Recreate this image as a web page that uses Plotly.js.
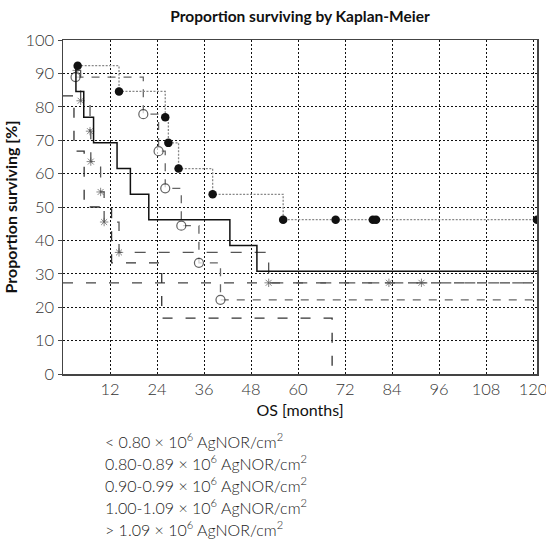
<!DOCTYPE html>
<html>
<head>
<meta charset="utf-8">
<script src="https://cdn.plot.ly/plotly-3.0.1.min.js"></script>
<style>html,body{margin:0;padding:0;background:#fff;}#chart{width:546px;height:559px;}</style>
</head>
<body>
<div id="chart"></div>
<script>
// Group labels (legend text)
const groupLabels = [
  "< 0.80 × 10<sup>6</sup> AgNOR/cm<sup>2</sup>",
  "0.80-0.89 × 10<sup>6</sup> AgNOR/cm<sup>2</sup>",
  "0.90-0.99 × 10<sup>6</sup> AgNOR/cm<sup>2</sup>",
  "1.00-1.09 × 10<sup>6</sup> AgNOR/cm<sup>2</sup>",
  "> 1.09 × 10<sup>6</sup> AgNOR/cm<sup>2</sup>"
];

// Filled-circle curve (dotted)
const aMonths = [3.75, 14.3, 26.1, 26.9, 29.5, 38.2, 56.2, 69.6, 79.1, 79.9, 121];
const aSurv   = [92.3, 84.6, 76.9, 69.2, 61.5, 53.8, 46.2, 46.2, 46.2, 46.2, 46.2];

// Open-circle curve (dashed)
const bMonths = [3.2, 20.5, 24.4, 26.1, 30.2, 34.7, 40.2, 120];
const bSurv   = [88.9, 77.8, 66.7, 55.6, 44.4, 33.3, 22.2, 22.2];

// Solid curve
const cMonths = [3.3, 3.3, 5.3, 7.8, 13.8, 17.2, 21.9, 42.6, 49.5, 121];
const cSurv   = [92.3, 84.6, 76.9, 69.2, 61.5, 53.8, 46.2, 38.5, 30.8, 30.8];

// Asterisk curve (long dash)
const dMonths = [3.5, 4.5, 6.9, 7.1, 9.6, 10.5, 14.3, 52.5, 83.2, 91.5, 120];
const dSurv   = [90.9, 81.8, 72.7, 63.6, 54.5, 45.5, 36.4, 27.3, 27.3, 27.3, 27.3];

// Long-dash curve without markers
const eMonths = [0, 2.8, 5.4, 12.4, 25.2, 68.7];
const eSurv   = [83.3, 66.7, 50.0, 33.3, 16.7, 0];

// Flat long-dash line
const fMonths = [0, 120];
const fSurv   = [27.3, 27.3];

const xTicks = [12, 24, 36, 48, 60, 72, 84, 96, 108, 120];
const yTicks = [0, 10, 20, 30, 40, 50, 60, 70, 80, 90, 100];

const FONT = "Lato, Open Sans, sans-serif";

function sizes(n, s) { const a = []; for (let i = 0; i < n; i++) a.push(i === n - 1 ? 0 : s); return a; }

const traces = [
  { x: fMonths, y: fSurv, mode: "lines", line: { shape: "hv", color: "#444", width: 1.3, dash: "10px,13px" }, name: "f", hoverinfo: "skip" },
  { x: eMonths, y: eSurv, mode: "lines", line: { shape: "hv", color: "#333", width: 1.3, dash: "10px,13px" }, name: groupLabels[4] },
  { x: dMonths, y: dSurv, mode: "lines+markers", line: { shape: "hv", color: "#555", width: 1.3, dash: "11px,13px" },
    marker: { symbol: "asterisk-open", size: sizes(dMonths.length, 7), line: { color: "#444", width: 1 } }, name: groupLabels[3] },
  { x: bMonths, y: bSurv, mode: "lines+markers", line: { shape: "hv", color: "#666", width: 1.3, dash: "8px,8px" },
    marker: { symbol: "circle", size: sizes(bMonths.length, 9), color: "#fff", line: { color: "#222", width: 1.2 } }, name: groupLabels[1] },
  { x: cMonths, y: cSurv, mode: "lines", line: { shape: "hv", color: "#111", width: 1.5 }, name: groupLabels[2] },
  { x: aMonths, y: aSurv, mode: "lines+markers", line: { shape: "hv", color: "#888", width: 1.3, dash: "2px,1.5px" },
    marker: { symbol: "circle", size: 8.5, color: "#111" }, name: groupLabels[0] }
];

const annotations = groupLabels.map((t, i) => ({
  text: t, xref: "paper", yref: "paper", x: (103 - 63) / 474, y: (559 - (449 + i * 24.6) - 185) / 374,
  xanchor: "left", yanchor: "middle", showarrow: false, font: { family: FONT, size: 16, weight: 300, color: "#222" }
}));

const layout = {
  width: 546, height: 559,
  margin: { l: 63, r: 9, t: 40, b: 185 },
  paper_bgcolor: "#fff", plot_bgcolor: "#fff",
  showlegend: false,
  title: { text: "Proportion surviving by Kaplan-Meier", x: 0.5, xref: "paper", xanchor: "center",
           y: 1 - 17 / 559, yref: "container", yanchor: "middle", font: { family: FONT, size: 15.5, weight: 700, color: "#111" } },
  xaxis: {
    range: [0, 121], tickvals: xTicks, ticktext: xTicks.map(String), ticklabeloverflow: "allow",
    showgrid: true, gridcolor: "#111", gridwidth: 1, griddash: "2px,2px",
    zeroline: false, showline: true, mirror: true, linecolor: "#444", linewidth: 1.5,
    ticks: "", tickfont: { family: FONT, size: 16.5, weight: 300, color: "#333" },
    title: { text: "OS [months]", font: { family: FONT, size: 16, weight: 400, color: "#111" }, standoff: 6 }
  },
  yaxis: {
    range: [0, 100], tickvals: yTicks, ticktext: yTicks.map(String),
    showgrid: true, gridcolor: "#111", gridwidth: 1, griddash: "2px,2px",
    zeroline: false, showline: true, mirror: true, linecolor: "#444", linewidth: 1.5,
    ticks: "outside", ticklen: 4, tickcolor: "#444", tickfont: { family: FONT, size: 16.5, weight: 300, color: "#333" },
    title: { text: "Proportion surviving [%]", font: { family: FONT, size: 16, weight: 700, color: "#111" }, standoff: 4 }
  },
  annotations: annotations
};

Plotly.newPlot("chart", traces, layout, { staticPlot: true, displayModeBar: false });
</script>
</body>
</html>
